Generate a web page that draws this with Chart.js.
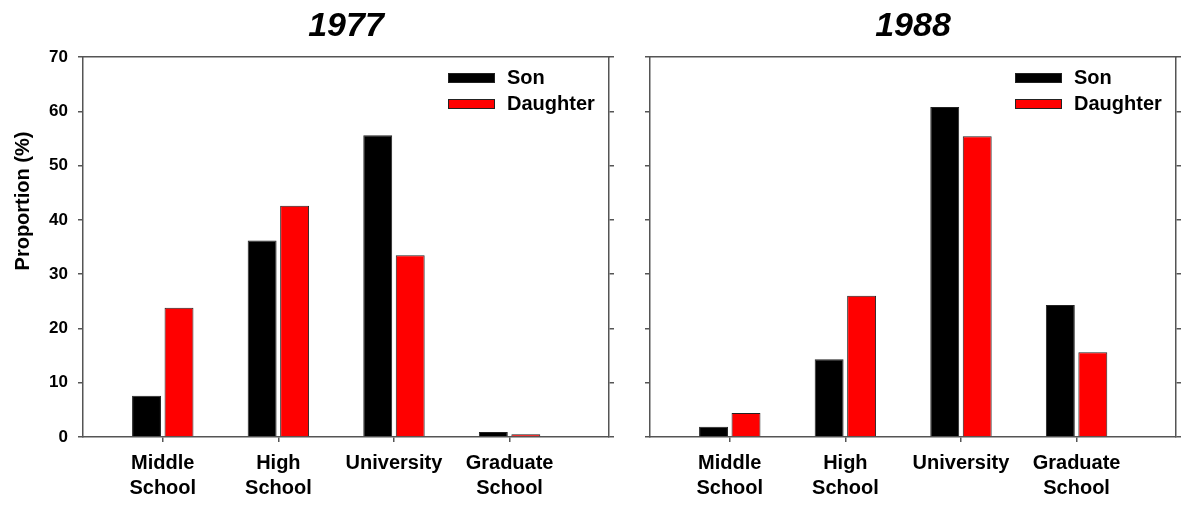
<!DOCTYPE html>
<html>
<head>
<meta charset="utf-8">
<script src="https://cdn.jsdelivr.net/npm/chart.js@4/dist/chart.umd.min.js"></script>
<style>
  body { margin: 0; background: #fff; }
  #wrap { position: relative; width: 1181px; height: 505px; }
  canvas { position: absolute; top: 0; }
</style>
</head>
<body>
<div id="wrap">
  <canvas id="c1977" width="620" height="505" style="left:0"></canvas>
  <canvas id="c1988" width="561" height="505" style="left:620px"></canvas>
</div>
<script>
// categories (x positions 0..3)
const categories = [['Middle', 'School'], ['High', 'School'], 'University', ['Graduate', 'School']];
const catIndex = [0, 1, 2, 3];
const seriesNames = ['Son', 'Daughter'];

const son1977 = [7.6, 36.2, 55.6, 0.9];
const daughter1977 = [23.8, 42.6, 33.5, 0.5];
const son1988 = [1.9, 14.3, 60.8, 24.3];
const daughter1988 = [4.4, 26.0, 55.4, 15.6];

const yTicks = [0, 10, 20, 30, 40, 50, 60, 70];
const yTitle = 'Proportion (%)';

const FONT = '"Liberation Sans", Arial, Helvetica, sans-serif';
const AXIS = '#555';

// legend drawn inside the plot, top right
const insideLegend = {
  id: 'insideLegend',
  afterDatasetsDraw(chart) {
    const { ctx, chartArea } = chart;
    ctx.save();
    ctx.font = 'bold 20px ' + FONT;
    ctx.textBaseline = 'middle';
    chart.data.datasets.forEach((ds, i) => {
      const y = chartArea.top + 21 + i * 26;
      const x = chartArea.right - 161;
      ctx.fillStyle = ds.backgroundColor;
      ctx.fillRect(x, y - 5, 47, 10);
      ctx.strokeStyle = '#222';
      ctx.lineWidth = 1;
      ctx.strokeRect(x + 0.5, y - 4.5, 46, 9);
      ctx.fillStyle = '#000';
      ctx.fillText(ds.label, x + 59, y);
    });
    ctx.restore();
  }
};

// rotated y axis title, only on the left panel
const yTitlePlugin = {
  id: 'yTitlePlugin',
  afterDraw(chart, args, opts) {
    if (!opts.text) return;
    const ctx = chart.ctx;
    ctx.save();
    ctx.translate(23, 201);
    ctx.rotate(-Math.PI / 2);
    ctx.font = 'bold 20px ' + FONT;
    ctx.fillStyle = '#000';
    ctx.textAlign = 'center';
    ctx.textBaseline = 'middle';
    ctx.fillText(opts.text, 0, 0);
    ctx.restore();
  }
};

function panel(id, title, son, daughter, leftWidth, showYLabels, padRight) {
  const data = {
    datasets: [{
      label: seriesNames[0],
      data: catIndex.map((x, i) => ({ x: x, y: son[i] })),
      backgroundColor: '#000000',
      borderColor: '#222',
      borderWidth: 1,
      categoryPercentage: 0.562,
      barPercentage: 0.89
    }, {
      label: seriesNames[1],
      data: catIndex.map((x, i) => ({ x: x, y: daughter[i] })),
      backgroundColor: '#ff0000',
      borderColor: '#222',
      borderWidth: 1,
      categoryPercentage: 0.562,
      barPercentage: 0.89
    }]
  };
  const options = {
    responsive: false,
    animation: false,
    devicePixelRatio: 1,
    layout: { padding: { left: 0, right: padRight, top: 0, bottom: 0 } },
    plugins: {
      legend: { display: false },
      tooltip: { enabled: false },
      title: {
        display: true,
        text: title,
        fullSize: false,
        color: '#000',
        font: { family: FONT, size: 34, weight: 'bold', style: 'italic', lineHeight: 1.2 },
        padding: { top: 6, bottom: 10.2 }
      },
      yTitlePlugin: { text: showYLabels ? yTitle : '' }
    },
    scales: {
      x: {
        type: 'linear',
        position: 'bottom',
        offset: false,
        min: -0.69,
        max: 3.86,
        afterBuildTicks: (s) => { s.ticks = catIndex.map(v => ({ value: v })); },
        afterFit: (s) => { s.height = 68; },
        ticks: {
          callback: (v) => categories[v],
          color: '#000',
          padding: 9,
          maxRotation: 0,
          autoSkip: false,
          font: { family: FONT, size: 20, weight: 'bold', lineHeight: 1.25 }
        },
        grid: { offset: false, drawOnChartArea: false, drawTicks: true, tickLength: 5, color: AXIS, lineWidth: 1.5 },
        border: { display: true, color: AXIS, width: 1.5 }
      },
      xTop: {
        type: 'linear',
        position: 'top',
        offset: false,
        min: -0.69,
        max: 3.86,
        afterFit: (s) => { s.height = 0; },
        ticks: { display: false },
        grid: { display: false },
        border: { display: true, color: AXIS, width: 1.5 }
      },
      y: {
        position: 'left',
        min: 0,
        max: 70,
        afterBuildTicks: (s) => { s.ticks = yTicks.map(v => ({ value: v })); },
        afterFit: (s) => { s.width = leftWidth; },
        ticks: {
          display: showYLabels,
          color: '#000',
          padding: 10,
          font: { family: FONT, size: 17, weight: 'bold' }
        },
        grid: { drawOnChartArea: false, drawTicks: true, tickLength: 5, color: AXIS, lineWidth: 1.5 },
        border: { display: true, color: AXIS, width: 1.5 }
      },
      yRight: {
        position: 'right',
        min: 0,
        max: 70,
        afterBuildTicks: (s) => { s.ticks = yTicks.map(v => ({ value: v })); },
        afterFit: (s) => { s.width = 5; },
        ticks: { display: false },
        grid: { drawOnChartArea: false, drawTicks: true, tickLength: 5, color: AXIS, lineWidth: 1.5 },
        border: { display: true, color: AXIS, width: 1.5 }
      }
    }
  };
  const ctx = document.getElementById(id).getContext('2d');
  return new Chart(ctx, { type: 'bar', data: data, options: options, plugins: [insideLegend, yTitlePlugin] });
}

panel('c1977', '1977', son1977, daughter1977, 83, true, 6);
panel('c1988', '1988', son1988, daughter1988, 30, false, 0);
</script>
</body>
</html>
